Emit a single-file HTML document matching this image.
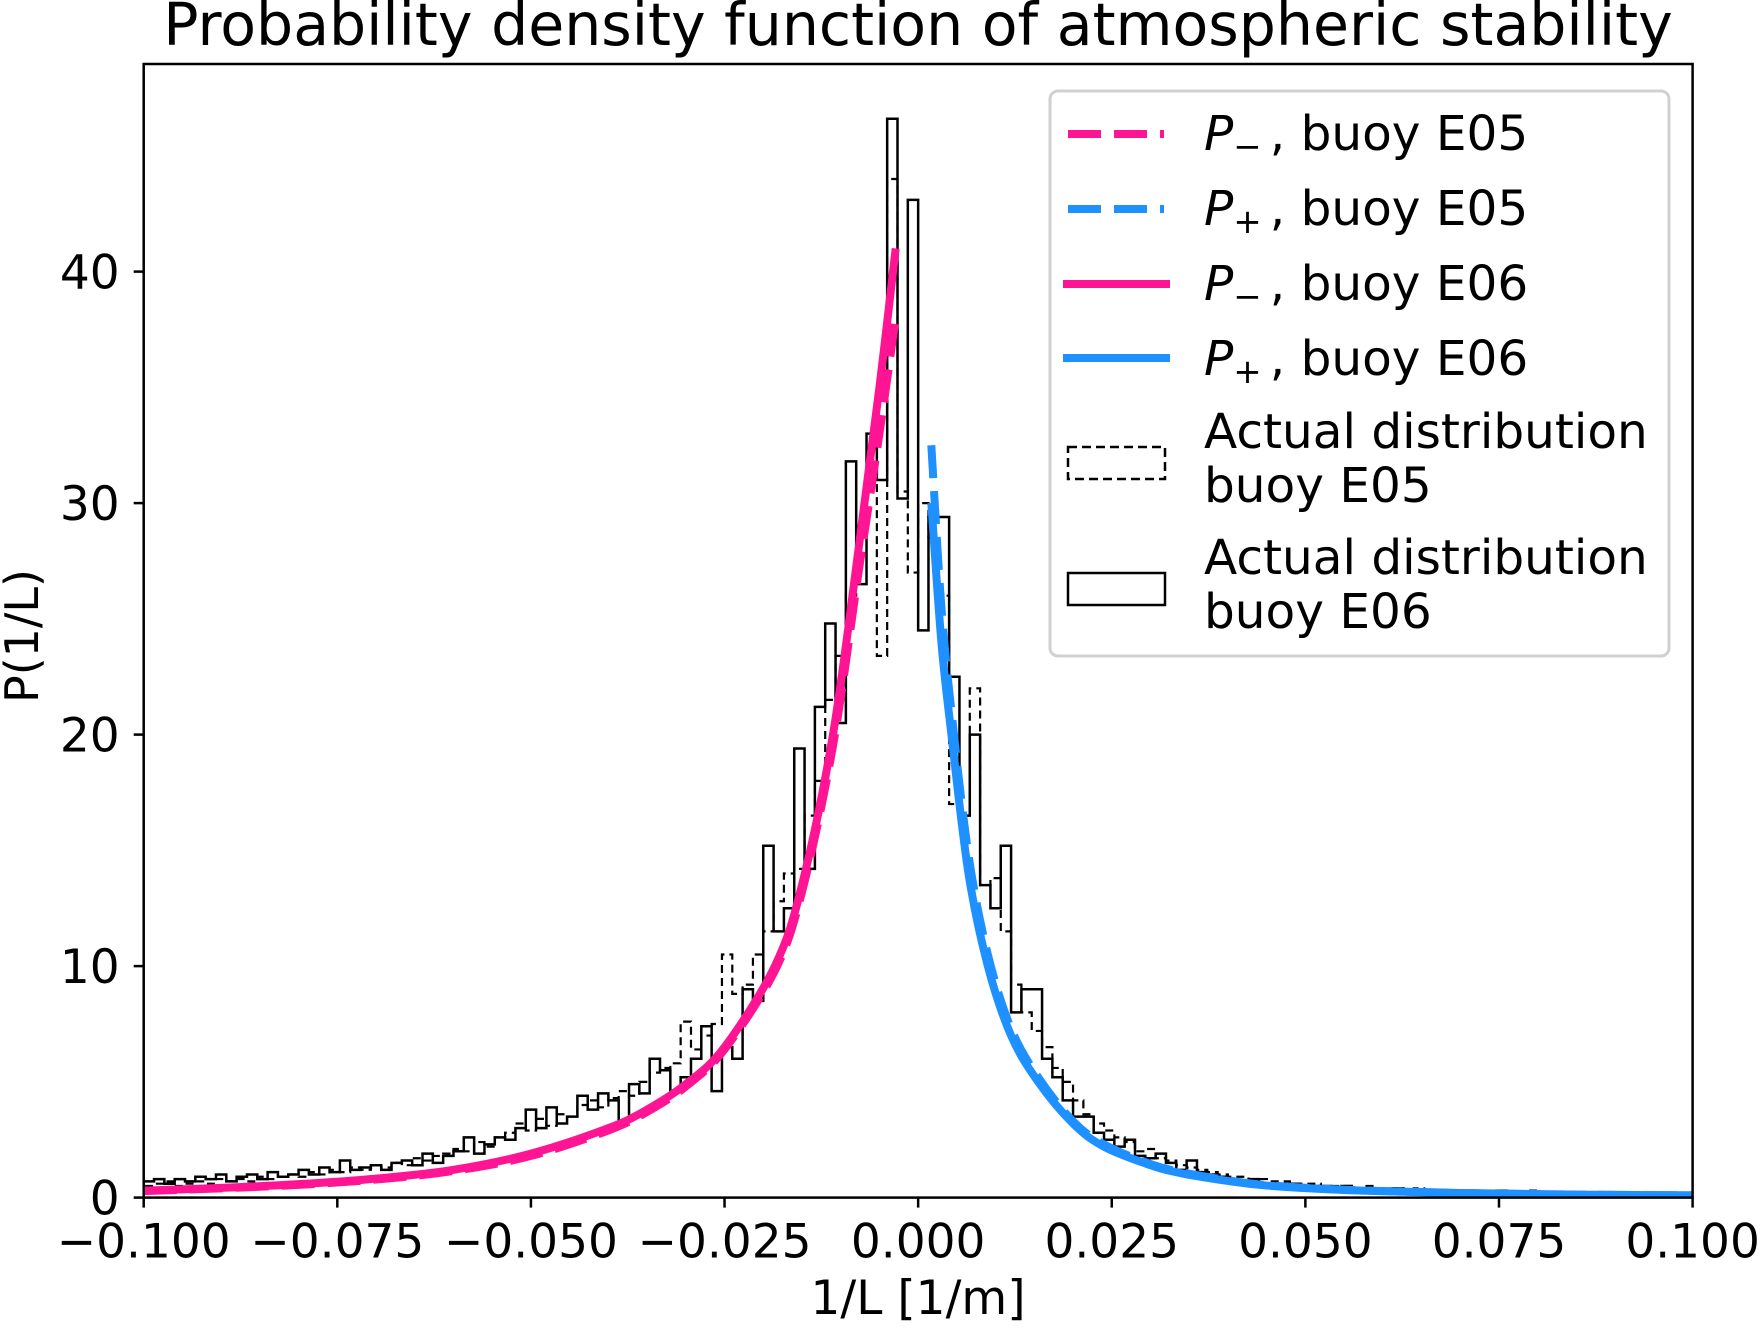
<!DOCTYPE html>
<html><head><meta charset="utf-8"><style>
html,body{margin:0;padding:0;background:#fff}
svg{display:block}
text{font-family:"DejaVu Sans","Liberation Sans",sans-serif;fill:#000}
</style></head><body>
<svg id="chart" width="1760" height="1328" viewBox="0 0 1760 1328">
<text x="918" y="45" font-size="58.5" text-anchor="middle">Probability density function of atmospheric stability</text>
<g id="plot"></g>
<g id="axes"></g>
<text x="918" y="1314" font-size="47" text-anchor="middle">1/L [1/m]</text>
<text transform="translate(38,636) rotate(-90)" font-size="46" text-anchor="middle">P(1/L)</text>
<g>
<rect x="1050" y="91" width="619" height="565" rx="8" fill="#fff" fill-opacity="0.8" stroke="#d0d0d0" stroke-width="3"/>
<line x1="1068" y1="134" x2="1164" y2="134" stroke="#ff1493" stroke-width="8" stroke-dasharray="33,13"/>
<text x="1204" y="150" font-size="48.5"><tspan font-style="italic">P</tspan><tspan font-size="34" dy="8">−</tspan><tspan dy="-8" dx="8">, buoy E05</tspan></text>
<line x1="1068" y1="209" x2="1164" y2="209" stroke="#1e90ff" stroke-width="8" stroke-dasharray="33,13"/>
<text x="1204" y="225" font-size="48.5"><tspan font-style="italic">P</tspan><tspan font-size="34" dy="8">+</tspan><tspan dy="-8" dx="8">, buoy E05</tspan></text>
<line x1="1063" y1="284" x2="1170" y2="284" stroke="#ff1493" stroke-width="8"/>
<text x="1204" y="300" font-size="48.5"><tspan font-style="italic">P</tspan><tspan font-size="34" dy="8">−</tspan><tspan dy="-8" dx="8">, buoy E06</tspan></text>
<line x1="1063" y1="358" x2="1170" y2="358" stroke="#1e90ff" stroke-width="8"/>
<text x="1204" y="375" font-size="48.5"><tspan font-style="italic">P</tspan><tspan font-size="34" dy="8">+</tspan><tspan dy="-8" dx="8">, buoy E06</tspan></text>
<rect x="1068" y="447" width="97" height="32" fill="none" stroke="#000" stroke-width="2.5" stroke-dasharray="9,5"/>
<text x="1204" y="448" font-size="48.5">Actual distribution</text>
<text x="1204" y="502" font-size="48.5">buoy E05</text>
<rect x="1068" y="573" width="97" height="32" fill="none" stroke="#000" stroke-width="2.5"/>
<text x="1204" y="574" font-size="48.5">Actual distribution</text>
<text x="1204" y="628" font-size="48.5">buoy E06</text>
</g>
</svg>
<script>
const binStart = -0.1, binEnd = 0.1;
const histE06 = [0.7,0.8,0.6,0.8,0.7,0.9,0.8,1.0,0.7,0.9,1.0,0.8,1.1,0.9,1.0,
1.2,1.0,1.3,1.1,1.6,1.2,1.3,1.4,1.2,1.5,1.6,1.4,1.9,1.5,1.8,
2.0,2.6,1.9,2.3,2.6,2.5,3.0,3.8,3.0,3.9,3.2,3.5,4.4,3.8,4.5,
4.2,3.3,4.9,4.5,6.0,5.5,4.6,5.2,6.0,7.4,4.6,6.5,6.0,9.0,8.5,
15.2,11.5,12.5,19.4,14.2,21.2,24.8,20.5,31.8,26.5,33,31,46.6,30.2,43.1,
24.5,29.4,29.4,22.5,16.5,20,13.5,12.5,15.2,8,9,9,6,5.2,4.2,
3.5,3.5,2.8,2.5,2.2,2.5,1.8,1.7,1.9,1.5,1.2,1.6,1.1,1.0,0.9,
0.8,0.7,0.8,0.6,0.6,0.5,0.6,0.5,0.5,0.5,0.4,0.5,0.4,0.4,0.4,
0.3,0.4,0.3,0.3,0.3,0.3,0.3,0.2,0.3,0.2,0.2,0.3,0.2,0.2,0.2,
0.2,0.2,0.2,0.1,0.2,0.1,0.2,0.1,0.1,0.2,0.1,0.1,0.1,0.2,0.1];
const histE05 = [0.5,0.6,0.7,0.5,0.6,0.7,0.6,0.8,0.7,0.8,0.7,0.9,0.8,0.9,1.0,
0.9,1.1,1.0,1.2,1.1,1.3,1.2,1.4,1.3,1.5,1.4,1.7,1.6,1.8,1.9,
2.1,2.0,2.4,2.2,2.6,2.8,3.2,2.9,3.4,3.1,3.6,3.5,4.0,4.2,3.9,
4.3,4.6,4.4,5.0,5.4,5.6,5.8,7.6,6.4,7.0,7.5,10.5,8.8,9.2,10.5,
11.5,12.8,14.0,14.2,16.5,18.0,21.5,23.4,26.0,29.0,31.5,23.4,44.0,30.5,27.0,
30.0,28.5,26.0,17.0,16.5,22.0,13.5,13.8,11.5,9.2,8.0,7.2,6.5,5.6,5.0,
4.2,3.6,3.2,2.9,2.6,2.4,2.0,2.1,1.7,1.6,1.4,1.3,1.2,1.1,1.0,
0.9,0.9,0.8,0.8,0.7,0.7,0.6,0.6,0.6,0.5,0.5,0.5,0.4,0.5,0.4,
0.4,0.4,0.3,0.4,0.3,0.3,0.3,0.3,0.3,0.2,0.3,0.2,0.2,0.2,0.3,
0.2,0.2,0.2,0.2,0.2,0.1,0.2,0.2,0.1,0.2,0.1,0.1,0.2,0.1,0.1];
const pMinusX = [-0.1,-0.09,-0.08,-0.07,-0.06,-0.05,-0.04,-0.035,-0.03,-0.025,-0.0185,-0.015,-0.011,-0.0077,-0.005,-0.0029];
const pMinusE06 = [0.3,0.42,0.58,0.82,1.2,1.9,3.0,3.8,4.9,6.5,10,13.5,20,28,35,41];
const pMinusE05 = [0.28,0.4,0.55,0.78,1.15,1.8,2.9,3.7,4.8,6.4,9.8,13.2,19.5,27,33,38];
const pPlusX = [0.0017,0.003,0.0043,0.0065,0.009,0.012,0.0155,0.02,0.024,0.03,0.034,0.04,0.045,0.055,0.07,0.085,0.1];
const pPlusE06 = [30,24,20,14,10,7,5,3.2,2.2,1.4,1.05,0.72,0.52,0.33,0.2,0.13,0.1];
const pPlusE05 = [32.5,25.5,21,14.8,10.5,7.3,5.2,3.3,2.3,1.45,1.1,0.75,0.54,0.34,0.2,0.13,0.1];
const xTicks = [-0.1,-0.075,-0.05,-0.025,0,0.025,0.05,0.075,0.1];
const xTickLabels = ["−0.100","−0.075","−0.050","−0.025","0.000","0.025","0.050","0.075","0.100"];
const yTicks = [0,10,20,30,40];
const yTickLabels = ["0","10","20","30","40"];

const L=143.7,R=1692.6,T=64,B=1197.6,yPer=23.15;
const X=v=>L+(v-(-0.1))/(0.2)*(R-L);
const Y=v=>B-v*yPer;
const NS="http://www.w3.org/2000/svg";
const plot=document.getElementById('plot'), axes=document.getElementById('axes');
function mk(tag,attrs,parent){const e=document.createElementNS(NS,tag);for(const k in attrs)e.setAttribute(k,attrs[k]);parent.appendChild(e);return e;}

function histPath(vals){
  const w=(binEnd-binStart)/vals.length;
  let d=`M${X(binStart)},${Y(0)}`;
  vals.forEach((v,i)=>{d+=` L${X(binStart+i*w)},${Y(v)} L${X(binStart+(i+1)*w)},${Y(v)}`;});
  d+=` L${X(binEnd)},${Y(0)}`;
  return d;
}
function smooth(xs,ys){
  const p=xs.map((x,i)=>[X(x),Y(ys[i])]);
  let d=`M${p[0][0]},${p[0][1]}`;
  for(let i=0;i<p.length-1;i++){
    const p0=p[i-1]||p[i],p1=p[i],p2=p[i+1],p3=p[i+2]||p2;
    const c1=[p1[0]+(p2[0]-p0[0])/6,p1[1]+(p2[1]-p0[1])/6];
    const c2=[p2[0]-(p3[0]-p1[0])/6,p2[1]-(p3[1]-p1[1])/6];
    d+=` C${c1[0]},${c1[1]} ${c2[0]},${c2[1]} ${p2[0]},${p2[1]}`;
  }
  return d;
}
const clip=mk('clipPath',{id:'cp'},mk('defs',{},plot));
mk('rect',{x:L,y:T,width:R-L,height:B-T},clip);
const g=mk('g',{'clip-path':'url(#cp)'},plot);

const h5=mk('path',{d:histPath(histE05),fill:'none',stroke:'#000','stroke-width':2.2,'stroke-dasharray':'8,5'},g);


const h6=mk('path',{d:histPath(histE06),fill:'none',stroke:'#000','stroke-width':2.5},g);



const c1=mk('path',{d:smooth(pMinusX,pMinusE05),fill:'none',stroke:'#ff1493','stroke-width':8,'stroke-dasharray':'33,13'},g);


const c2=mk('path',{d:smooth(pPlusX,pPlusE05),fill:'none',stroke:'#1e90ff','stroke-width':8,'stroke-dasharray':'33,13'},g);


const c3=mk('path',{d:smooth(pMinusX,pMinusE06),fill:'none',stroke:'#ff1493','stroke-width':8},g);


const c4=mk('path',{d:smooth(pPlusX,pPlusE06),fill:'none',stroke:'#1e90ff','stroke-width':8},g);



const frame=mk('rect',{x:L,y:T,width:R-L,height:B-T,fill:'none',stroke:'#000','stroke-width':2.5},axes);


xTicks.forEach((t,i)=>{
  const tk=mk('line',{x1:X(t),x2:X(t),y1:B,y2:B+10,stroke:'#000','stroke-width':2.5},axes);
  
  
  const tl=mk('text',{x:X(t),y:B+60,'font-size':47,'text-anchor':'middle'},axes);
  tl.textContent=xTickLabels[i];
  
  
});
yTicks.forEach((t,i)=>{
  const tk=mk('line',{x1:L-10,x2:L,y1:Y(t),y2:Y(t),stroke:'#000','stroke-width':2.5},axes);
  
  
  const tl=mk('text',{x:L-24,y:Y(t)+17,'font-size':47,'text-anchor':'end'},axes);
  tl.textContent=yTickLabels[i];
  
  
});
</script>
</body></html>
